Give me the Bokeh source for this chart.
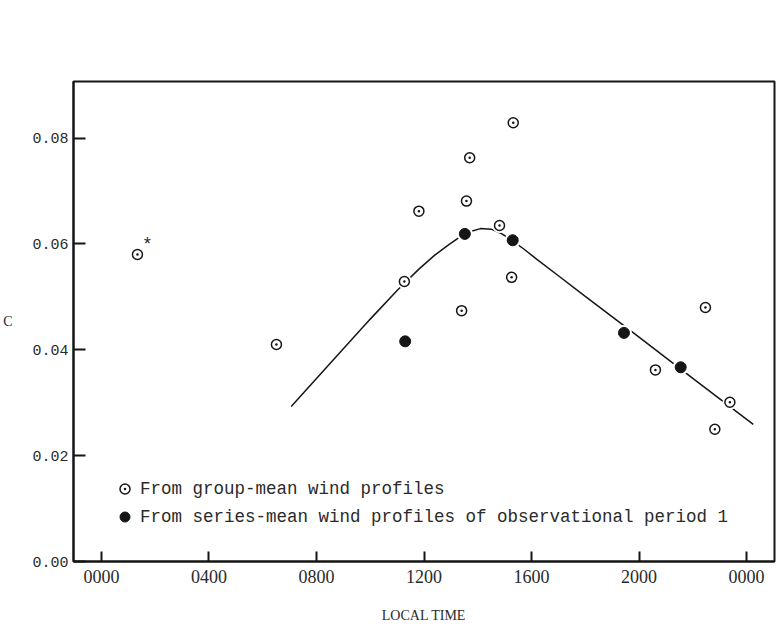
from bokeh.plotting import figure
from bokeh.models import (Range1d, FixedTicker, ColumnDataSource, Legend,
                          LegendItem, Label)
from bokeh.embed import file_html
from bokeh.resources import INLINE

# Drag coefficient C against local time (hours after midnight)
group_hours = [1.34, 6.51, 11.27, 11.81, 13.40, 13.58, 13.70, 14.81, 15.26,
               15.32, 20.61, 22.47, 22.82, 23.38]
group_c = [0.0580, 0.0410, 0.0529, 0.0662, 0.0474, 0.0681, 0.0763, 0.0635,
           0.0537, 0.0829, 0.0362, 0.0480, 0.0250, 0.0301]

series_hours = [11.30, 13.52, 15.30, 19.44, 21.55]
series_c = [0.0416, 0.0619, 0.0607, 0.0432, 0.0367]

# Smoothed diurnal curve
curve_hours = [7.06, 8.0, 9.0, 10.0, 11.0, 11.8, 12.4, 12.9, 13.3, 13.7, 14.1,
               14.5, 14.9, 15.3, 15.7, 16.2, 17.0, 18.0, 20.0, 22.0, 24.25]
curve_c = [0.0293, 0.0346, 0.0402, 0.0458, 0.0512, 0.0552, 0.0579, 0.0598,
           0.0612, 0.0623, 0.0629, 0.0628, 0.0619, 0.0606, 0.0591, 0.0571,
           0.0540, 0.0501, 0.0424, 0.0346, 0.0259]

x_ticks = [0, 4, 8, 12, 16, 20, 24]
x_tick_labels = ["0000", "0400", "0800", "1200", "1600", "2000", "0000"]
y_ticks = [0.0, 0.02, 0.04, 0.06, 0.08]
y_tick_labels = ["0.00", "0.02", "0.04", "0.06", "0.08"]

legend_labels = ["From group-mean wind profiles",
                 "From series-mean wind profiles of observational period 1"]

INK = "#151515"
TEXT = "#2a2a2a"

p = figure(width=777, height=625, output_backend="svg", toolbar_location=None,
           x_range=Range1d(-1.04, 25.04), y_range=Range1d(0.0, 0.0907),
           min_border_left=72, min_border_right=3, min_border_top=81,
           min_border_bottom=64)
p.background_fill_color = "white"
p.border_fill_color = "white"
p.outline_line_color = INK
p.outline_line_width = 2
p.grid.visible = False

# axes
p.xaxis.ticker = FixedTicker(ticks=x_ticks)
p.xaxis.major_label_overrides = dict(zip(x_ticks, x_tick_labels))
p.yaxis.ticker = FixedTicker(ticks=y_ticks)
p.yaxis.major_label_overrides = dict(zip(y_ticks, y_tick_labels))
for ax in (p.xaxis, p.yaxis):
    ax.axis_line_color = INK
    ax.axis_line_width = 2
    ax.major_tick_line_color = INK
    ax.major_tick_line_width = 2
    ax.major_tick_out = 0
    ax.minor_tick_line_color = None
    ax.major_label_text_color = TEXT
    ax.axis_label_text_color = TEXT
    ax.axis_label_text_font = "Liberation Serif"
    ax.axis_label_text_font_size = "14px"
    ax.axis_label_text_font_style = "normal"

p.xaxis.major_tick_in = 10
p.xaxis.major_label_text_font = "Liberation Serif"
p.xaxis.major_label_text_font_size = "18px"
p.xaxis.major_label_standoff = 8
p.xaxis.axis_label = "LOCAL TIME"
p.xaxis.axis_label_standoff = 22

p.yaxis.major_tick_in = 12
p.yaxis.major_label_text_font = "Liberation Mono"
p.yaxis.major_label_text_font_size = "15px"
p.yaxis.major_label_standoff = 5
p.yaxis.axis_label = "C"
p.yaxis.axis_label_orientation = "horizontal"
p.yaxis.axis_label_standoff = 17

group_src = ColumnDataSource(dict(h=group_hours, c=group_c))
series_src = ColumnDataSource(dict(h=series_hours, c=series_c))
curve_src = ColumnDataSource(dict(h=curve_hours, c=curve_c))

# fitted curve, broken where it passes behind the symbols
p.line("h", "c", source=curve_src, line_color=INK, line_width=1.5)
p.scatter("h", "c", source=group_src, marker="circle", size=15,
          fill_color="white", line_color=None)
p.scatter("h", "c", source=series_src, marker="circle", size=16,
          fill_color="white", line_color=None)

open_r = p.scatter("h", "c", source=group_src, marker="circle_dot", size=10,
                   fill_color="white", line_color=INK, line_width=1.5)
filled_r = p.scatter("h", "c", source=series_src, marker="circle", size=11,
                     fill_color=INK, line_color=INK)

# asterisk flagging the early-morning value
p.add_layout(Label(x=group_hours[0], y=group_c[0], x_offset=10, y_offset=10,
                   text="*", text_font="Liberation Mono",
                   text_font_size="18px", text_color=TEXT,
                   text_align="center", text_baseline="middle"))

legend = Legend(items=[LegendItem(label=legend_labels[0], renderers=[open_r]),
                       LegendItem(label=legend_labels[1], renderers=[filled_r])],
                location=(39, 32), orientation="vertical",
                glyph_width=25, glyph_height=25, label_standoff=3,
                spacing=3, padding=0, margin=0,
                border_line_color=None, background_fill_alpha=0,
                label_text_font="Liberation Mono",
                label_text_font_size="17.5px", label_text_color=TEXT)
p.add_layout(legend)

open("out.html", "w").write(file_html(p, INLINE))
